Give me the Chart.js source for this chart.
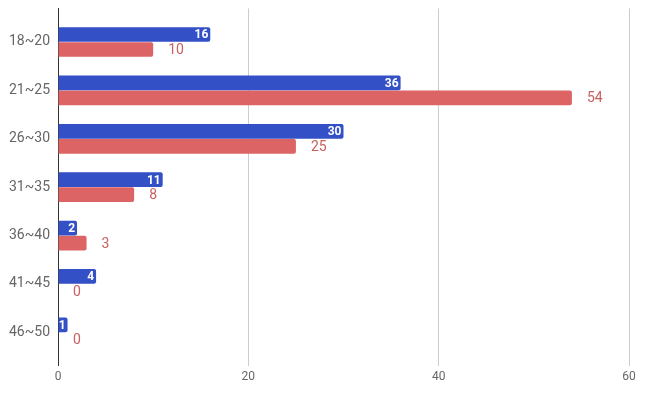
<!DOCTYPE html>
<html>
<head>
<meta charset="utf-8">
<script src="https://cdn.jsdelivr.net/npm/chart.js@4"></script>
<style>
  html, body { margin: 0; padding: 0; background: #fff; }
  #wrap { width: 647px; height: 393px; }
</style>
</head>
<body>
<div id="wrap"><canvas id="myChart" width="647" height="393"></canvas></div>
<script>
const ageGroups = ["18~20", "21~25", "26~30", "31~35", "36~40", "41~45", "46~50"];
const blueValues = [16, 36, 30, 11, 2, 4, 1];
const redValues = [10, 54, 25, 8, 3, 0, 0];
const xTicks = [0, 20, 40, 60];

const FONT = "Roboto, 'Noto Sans', sans-serif";

// y is a linear index axis so the empty space above the first group can be kept
const toPoints = values => values.map((v, i) => ({ x: v, y: i }));

// value labels: white inside the blue bar end, red outside the red bar end
const barLabels = {
    id: "barLabels",
    afterDatasetsDraw(chart) {
        const ctx = chart.ctx;
        ctx.save();
        ctx.textBaseline = "middle";
        chart.getDatasetMeta(0).data.forEach((bar, i) => {
            ctx.font = "bold 12px " + FONT;
            ctx.fillStyle = "#ffffff";
            ctx.textAlign = "right";
            ctx.fillText(String(blueValues[i]), bar.x - 2, bar.y + 1);
        });
        chart.getDatasetMeta(1).data.forEach((bar, i) => {
            ctx.font = "14px " + FONT;
            ctx.fillStyle = "#c8605f";
            ctx.textAlign = "left";
            ctx.fillText(String(redValues[i]), bar.x + 15, bar.y + 1);
        });
        ctx.restore();
    }
};

const ctx = document.getElementById("myChart").getContext("2d");

new Chart(ctx, {
    type: "bar",
    data: {
        datasets: [
            {
                data: toPoints(blueValues),
                backgroundColor: "#3350c6",
                borderRadius: 2,
                borderSkipped: "start"
            },
            {
                data: toPoints(redValues),
                backgroundColor: "#dc6465",
                borderRadius: 2,
                borderSkipped: "start"
            }
        ]
    },
    options: {
        indexAxis: "y",
        responsive: false,
        animation: false,
        layout: { padding: { top: 4, right: 18, left: 0, bottom: 0 } },
        datasets: {
            bar: { categoryPercentage: 0.62, barPercentage: 0.98 }
        },
        scales: {
            x: {
                type: "linear",
                min: 0,
                max: 60,
                afterBuildTicks: axis => { axis.ticks = xTicks.map(v => ({ value: v })); },
                afterFit: axis => { axis.height = 33; },
                grid: {
                    color: c => c.tick && c.tick.value === 0 ? "#333333" : "#cccccc",
                    tickLength: 6
                },
                border: { display: false },
                ticks: {
                    color: "#666666",
                    font: { family: FONT, size: 12 },
                    padding: 4
                }
            },
            y: {
                type: "linear",
                reverse: true,
                offset: false,
                bounds: "data",
                grace: 0,
                min: -0.694,
                max: 6.571,
                afterBuildTicks: axis => { axis.ticks = ageGroups.map((_, i) => ({ value: i })); },
                afterFit: axis => { axis.width = 58; },
                grid: { display: false, offset: false },
                border: { display: true, color: "#333333" },
                ticks: {
                    color: "#666666",
                    font: { family: FONT, size: 14 },
                    padding: 0,
                    callback: v => ageGroups[v]
                }
            }
        },
        plugins: {
            legend: { display: false },
            tooltip: { enabled: false }
        }
    },
    plugins: [barLabels]
});
</script>
</body>
</html>
